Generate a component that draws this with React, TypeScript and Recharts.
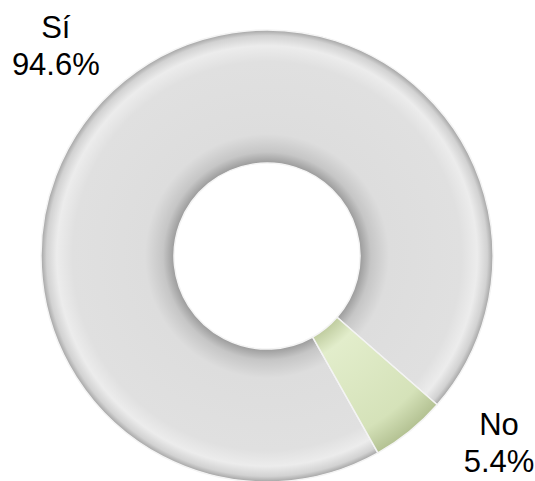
import { PieChart, Pie, Cell } from "recharts";

// answer categories and their shares (%)
const categories = ["Sí", "No"];
const shares = [94.6, 5.4];
const shareLabels = ["94.6%", "5.4%"];

const FILLS = ["url(#ringGrey)", "url(#ringGreen)"];
// small angle nudges so the labels sit where the original placed them
const LABEL_SHIFT = [6, 12];

const data = categories.map((name, i) => ({ name, value: shares[i], text: shareLabels[i] }));

const RAD = Math.PI / 180;

const renderLabel = (props: any) => {
  const { cx, cy, midAngle, outerRadius, index } = props;
  const a = (midAngle + LABEL_SHIFT[index]) * RAD;
  const r = outerRadius + 72;
  const x = cx + r * Math.cos(a);
  const y = cy - r * Math.sin(a);
  return (
    <text
      x={x}
      y={y - 8}
      textAnchor="middle"
      fill="#000"
      fontSize={31}
      fontFamily="'Liberation Sans', Arial, sans-serif"
    >
      <tspan x={x}>{data[index].name}</tspan>
      <tspan x={x} dy={37}>{data[index].text}</tspan>
    </text>
  );
};

const App = () => {
  return (
    <div style={{ position: "absolute", left: 0, top: 0, background: "#fff" }}>
      <PieChart width={535} height={481} margin={{ top: 0, right: 0, bottom: 0, left: 0 }}>
        <defs>
          <radialGradient id="ringGrey" gradientUnits="userSpaceOnUse" cx={267} cy={256} r={226}>
            <stop offset="0.41" stopColor="#9a9a9a" />
            <stop offset="0.46" stopColor="#c6c6c6" />
            <stop offset="0.54" stopColor="#dddddd" />
            <stop offset="0.86" stopColor="#e0e0e0" />
            <stop offset="0.93" stopColor="#ececec" />
            <stop offset="0.975" stopColor="#d2d2d2" />
            <stop offset="1" stopColor="#a4a4a4" />
          </radialGradient>
          <radialGradient id="ringGreen" gradientUnits="userSpaceOnUse" cx={267} cy={256} r={226}>
            <stop offset="0.41" stopColor="#bfcc9f" />
            <stop offset="0.5" stopColor="#e2edcb" />
            <stop offset="0.88" stopColor="#d5e2b9" />
            <stop offset="1" stopColor="#b3c192" />
          </radialGradient>
        </defs>
        <Pie
          data={data}
          dataKey="value"
          nameKey="name"
          cx={267}
          cy={256}
          innerRadius={93}
          outerRadius={226}
          startAngle={299.4}
          endAngle={-60.6}
          stroke="#f4f4f4"
          strokeWidth={1.5}
          label={renderLabel}
          labelLine={false}
          isAnimationActive={false}
        >
          {data.map((entry, index) => (
            <Cell key={`cell-${index}`} fill={FILLS[index]} />
          ))}
        </Pie>
      </PieChart>
    </div>
  );
};

export default App;
